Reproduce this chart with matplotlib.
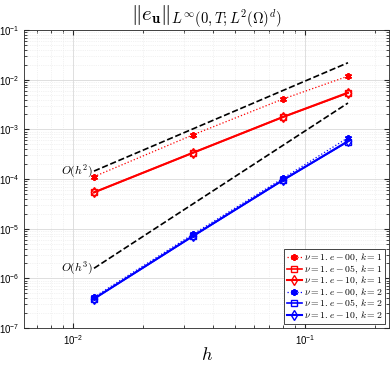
import matplotlib
matplotlib.use("Agg")
import matplotlib.pyplot as plt
from matplotlib.ticker import LogLocator, NullFormatter, FixedLocator

plt.rcParams['mathtext.fontset'] = 'cm'
plt.rcParams['font.family'] = ['Liberation Sans', 'DejaVu Sans']

# mesh sizes
h = [0.0123, 0.0329, 0.0803, 0.153]

# errors, k = 1
e_k1_nu0 = [1.12e-4, 7.8e-4, 4.1e-3, 1.18e-2]
e_k1_nu5 = [5.4e-5, 3.4e-4, 1.78e-3, 5.4e-3]
e_k1_nu10 = [5.4e-5, 3.4e-4, 1.78e-3, 5.5e-3]

# errors, k = 2
e_k2_nu0 = [4.2e-7, 7.8e-6, 1.04e-4, 6.8e-4]
e_k2_nu5 = [3.9e-7, 7.1e-6, 9.5e-5, 5.7e-4]
e_k2_nu10 = [3.9e-7, 7.2e-6, 9.6e-5, 5.8e-4]

# reference slopes
ref_h = [h[0], h[-1]]
ref_o2 = [1.45e-4, 2.2e-2]
ref_o3 = [1.6e-6, 3.4e-3]

labels = [r'$\nu=1.e-00,\, k=1$', r'$\nu=1.e-05,\, k=1$', r'$\nu=1.e-10,\, k=1$',
          r'$\nu=1.e-00,\, k=2$', r'$\nu=1.e-05,\, k=2$', r'$\nu=1.e-10,\, k=2$']
xticks = [1e-2, 1e-1]
yticks = [1e-7, 1e-6, 1e-5, 1e-4, 1e-3, 1e-2, 1e-1]

star = (6, 2, 0)

fig = plt.figure(figsize=(3.9, 3.67), dpi=100)
ax = fig.add_axes([0.062, 0.106, 0.935, 0.812])

ax.loglog(ref_h, ref_o2, 'k--', lw=1.2)
ax.loglog(ref_h, ref_o3, 'k--', lw=1.2)

ax.loglog(h, e_k1_nu0, ':', color='r', marker=star, ms=5, mew=1.3, lw=0.9, label=labels[0])
ax.loglog(h, e_k1_nu5, '-', color='r', marker='s', ms=4, mfc='none', lw=1.2, label=labels[1])
ax.loglog(h, e_k1_nu10, '-', color='r', marker='d', ms=5, mfc='none', lw=1.5, label=labels[2])
ax.loglog(h, e_k2_nu0, ':', color='b', marker=star, ms=5, mew=1.3, lw=0.9, label=labels[3])
ax.loglog(h, e_k2_nu5, '-', color='b', marker='s', ms=4, mfc='none', lw=1.2, label=labels[4])
ax.loglog(h, e_k2_nu10, '-', color='b', marker='d', ms=5, mfc='none', lw=1.5, label=labels[5])

ax.text(h[0] * 0.99, ref_o2[0], r'$O(h^2)$', ha='right', va='center', fontsize=8.5)
ax.text(h[0] * 0.99, ref_o3[0], r'$O(h^3)$', ha='right', va='center', fontsize=8.5)

ax.set_xlim(h[0] / 2, h[-1] * 1.5)
ax.set_ylim(1e-7, 1e-1)
ax.xaxis.set_major_locator(FixedLocator(xticks))
ax.yaxis.set_major_locator(FixedLocator(yticks))
ax.yaxis.set_minor_locator(LogLocator(base=10, subs=range(2, 10), numticks=20))
ax.yaxis.set_minor_formatter(NullFormatter())
ax.xaxis.set_minor_formatter(NullFormatter())

ax.grid(True, which='major', color='#d9d9d9', lw=0.6)
ax.grid(True, which='minor', color='#e6e6e6', lw=0.5, ls=':')
ax.tick_params(which='both', direction='in', top=True, right=True, labelsize=7, color='#262626')
for s in ax.spines.values():
    s.set_color('#262626')
    s.set_linewidth(0.6)

ax.set_title(r'$\|e_{\mathbf{u}}\|_{L^\infty(0,T;L^2(\Omega)^d)}$', fontsize=15, pad=2)
ax.set_xlabel(r'$h$', fontsize=13, labelpad=0)

leg = ax.legend(loc='lower right', fontsize=7.0, handlelength=1.6, labelspacing=-0.1,
                borderaxespad=0.4, borderpad=0.25, handletextpad=0.2, fancybox=False,
                framealpha=1, edgecolor='#262626')
leg.get_frame().set_linewidth(0.6)

fig.savefig('out.png', dpi=100)
